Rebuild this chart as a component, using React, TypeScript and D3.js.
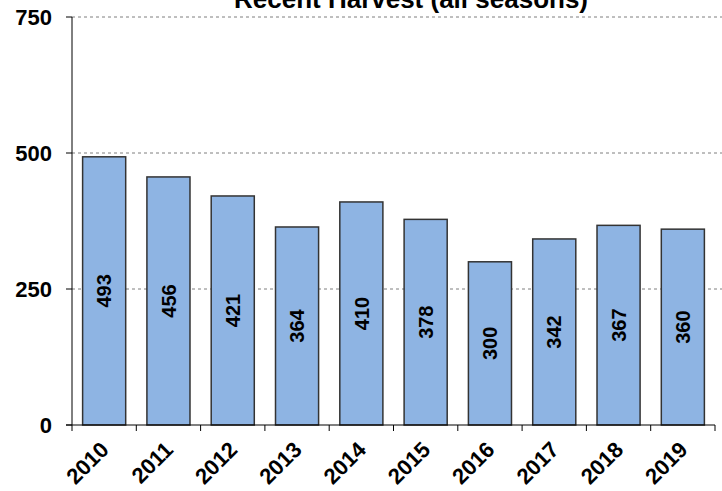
import { useEffect, useRef } from 'react';
import * as d3 from 'd3';

// Chart data
const years: string[] = ['2010', '2011', '2012', '2013', '2014', '2015', '2016', '2017', '2018', '2019'];
const harvest: number[] = [493, 456, 421, 364, 410, 378, 300, 342, 367, 360];
const yTicks: number[] = [0, 250, 500, 750];
const title = 'Recent Harvest (all seasons)';

const WIDTH = 722;
const HEIGHT = 491;

export default function App() {
    const svgRef = useRef<SVGSVGElement>(null);

    useEffect(() => {
        if (!svgRef.current) return;
        const svg = d3.select(svgRef.current);
        svg.selectAll('*').remove();

        const left = 72;
        const right = 715;
        const top = 17;
        const bottom = 425;
        const font = '"Liberation Sans", Arial, sans-serif';

        // Scales
        const x = d3.scaleBand<string>()
            .domain(years)
            .range([left, right])
            .padding(0);
        const y = d3.scaleLinear()
            .domain([0, 750])
            .range([bottom, top]);
        const barWidth = x.bandwidth() * 0.67;

        // Dashed grid lines
        svg.append('g')
            .selectAll('line')
            .data(yTicks.filter(d => d > 0))
            .join('line')
            .attr('x1', left)
            .attr('x2', WIDTH)
            .attr('y1', d => y(d))
            .attr('y2', d => y(d))
            .attr('stroke', '#7f7f7f')
            .attr('stroke-width', 1)
            .attr('stroke-dasharray', '3,3');

        // Bars
        svg.append('g')
            .selectAll('rect')
            .data(harvest)
            .join('rect')
            .attr('x', (_, i) => (x(years[i]) ?? 0) + (x.bandwidth() - barWidth) / 2)
            .attr('y', d => y(d))
            .attr('width', barWidth)
            .attr('height', d => bottom - y(d))
            .attr('fill', '#8eb4e3')
            .attr('stroke', '#333333')
            .attr('stroke-width', 1.5);

        // Bar value labels
        svg.append('g')
            .selectAll('text')
            .data(harvest)
            .join('text')
            .attr('transform', (d, i) => {
                const cx = (x(years[i]) ?? 0) + x.bandwidth() / 2;
                const cy = (y(d) + bottom) / 2;
                return `translate(${cx},${cy}) rotate(-90)`;
            })
            .attr('text-anchor', 'middle')
            .attr('dy', '0.36em')
            .style('font', `bold 20px ${font}`)
            .attr('fill', '#000')
            .text(d => d);

        // Y axis
        const yAxis = svg.append('g');
        yAxis.append('line')
            .attr('x1', left).attr('x2', left)
            .attr('y1', top).attr('y2', bottom)
            .attr('stroke', '#000').attr('stroke-width', 1);
        yAxis.selectAll('line.tick')
            .data(yTicks)
            .join('line')
            .attr('class', 'tick')
            .attr('x1', left - 6).attr('x2', left)
            .attr('y1', d => y(d)).attr('y2', d => y(d))
            .attr('stroke', '#000');
        yAxis.selectAll('text')
            .data(yTicks)
            .join('text')
            .attr('x', 52)
            .attr('y', d => y(d))
            .attr('dy', '0.36em')
            .attr('text-anchor', 'end')
            .style('font', `bold 22px ${font}`)
            .text(d => d);

        // X axis
        const xAxis = svg.append('g');
        xAxis.append('line')
            .attr('x1', left - 6).attr('x2', right)
            .attr('y1', bottom).attr('y2', bottom)
            .attr('stroke', '#000');
        const boundaries = [...years.map(d => x(d) ?? 0), right];
        xAxis.selectAll('line.tick')
            .data(boundaries)
            .join('line')
            .attr('class', 'tick')
            .attr('x1', d => d).attr('x2', d => d)
            .attr('y1', bottom).attr('y2', bottom + 6)
            .attr('stroke', '#000');
        xAxis.selectAll('text')
            .data(years)
            .join('text')
            .attr('transform', d => `translate(${(x(d) ?? 0) + x.bandwidth() / 2 + 6},${451}) rotate(-45)`)
            .attr('text-anchor', 'end')
            .style('font', `bold 22px ${font}`)
            .text(d => d);

        // Title (cut off at the top edge, as in the source chart)
        svg.append('text')
            .attr('x', 411)
            .attr('y', 8)
            .attr('text-anchor', 'middle')
            .style('font', `bold 26px ${font}`)
            .text(title);
    }, []);

    return (
        <svg
            ref={svgRef}
            width={WIDTH}
            height={HEIGHT}
            style={{ position: 'absolute', left: 0, top: 0, background: '#fff' }}
        />
    );
}
